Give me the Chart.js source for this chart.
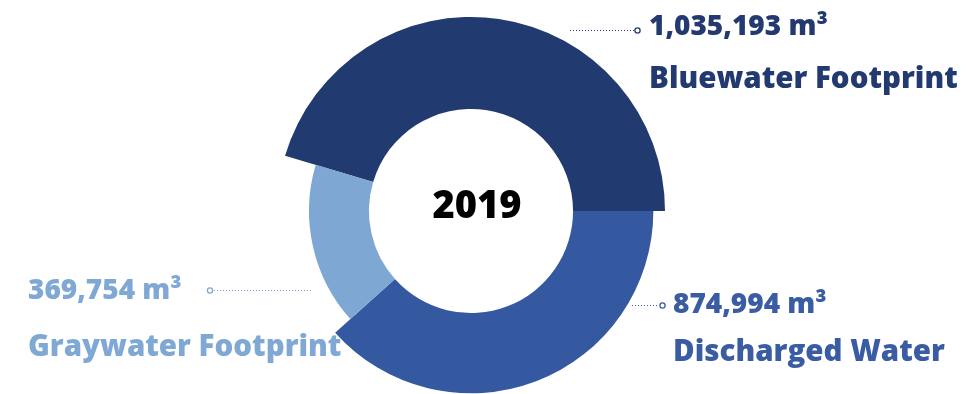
<!DOCTYPE html>
<html>
<head>
<meta charset="utf-8">
<script src="https://cdn.jsdelivr.net/npm/chart.js@4.4.1/dist/chart.umd.min.js"></script>
<style>
  html, body { margin: 0; padding: 0; background: #ffffff; overflow: hidden; }
  #wrap { position: relative; width: 970px; height: 422px; }
</style>
</head>
<body>
<div id="wrap"><canvas id="c"></canvas></div>
<script>
// Water balance, 2019 (m³)
const categories = ['Bluewater Footprint', 'Discharged Water', 'Graywater Footprint'];
const volumes = [1035193, 874994, 369754];
const year = '2019';
const unit = 'm³';

// Styling
const sliceColors = ['#213a70', '#3559a1', '#7ea7d3'];
const textColors = ['#223a70', '#3a5ca3', '#80a8d4'];
const ringScale = [1, 0.94, 0.835];          // relative outer radius of each slice
const labelFont = '"Open Sans", "Lato", sans-serif';

// Callout placement for each category
const callouts = [
  { x: 649, valueY: 35,  nameY: 88,  lineY: 30,  lineFrom: 570, lineTo: 634, dotX: 637.5 },
  { x: 673, valueY: 313, nameY: 361, lineY: 305, lineFrom: 632, lineTo: 659, dotX: 662.5 },
  { x: 28,  valueY: 299, nameY: 356, lineY: 290, lineFrom: 214, lineTo: 313, dotX: 210 }
];

const total = volumes.reduce((a, b) => a + b, 0);
// first slice ends at three o'clock
const startRotation = 90 - 360 * volumes[0] / total;

const ringPlugin = {
  id: 'ringScale',
  afterDatasetsUpdate(chart) {
    chart.getDatasetMeta(0).data.forEach((arc, i) => {
      arc.outerRadius = arc.outerRadius * ringScale[i];
    });
  }
};

const textPlugin = {
  id: 'callouts',
  afterDraw(chart) {
    const ctx = chart.ctx;
    const arc0 = chart.getDatasetMeta(0).data[0];
    ctx.save();
    // year in the hole
    ctx.fillStyle = '#000000';
    ctx.font = '800 38px ' + labelFont;
    ctx.textAlign = 'center';
    ctx.textBaseline = 'middle';
    ctx.fillText(year, arc0.x + 6, arc0.y - 4);

    ctx.textAlign = 'left';
    ctx.textBaseline = 'alphabetic';
    callouts.forEach((c, i) => {
      const col = textColors[i];
      ctx.fillStyle = col;
      ctx.font = '800 28px ' + labelFont;
      ctx.fillText(volumes[i].toLocaleString('en-US') + ' ' + unit, c.x, c.valueY);
      ctx.font = '800 29.5px ' + labelFont;
      ctx.fillText(categories[i], c.x, c.nameY);

      // dotted leader with a small ring at its end
      ctx.strokeStyle = col;
      ctx.lineWidth = 1;
      ctx.setLineDash([1, 2]);
      ctx.beginPath();
      ctx.moveTo(c.lineFrom, c.lineY + 0.5);
      ctx.lineTo(c.lineTo, c.lineY + 0.5);
      ctx.stroke();
      ctx.setLineDash([]);
      ctx.lineWidth = 1.3;
      ctx.beginPath();
      ctx.arc(c.dotX, c.lineY + 0.5, 2.6, 0, Math.PI * 2);
      ctx.stroke();
    });
    ctx.restore();
  }
};

new Chart(document.getElementById('c'), {
  type: 'doughnut',
  data: {
    labels: categories,
    datasets: [{
      data: volumes,
      backgroundColor: sliceColors,
      borderWidth: 0
    }]
  },
  options: {
    responsive: true,
    maintainAspectRatio: false,
    animation: false,
    rotation: startRotation,
    radius: 194,
    cutout: '52.6%',
    layout: { padding: { left: 0, right: 28, top: 0, bottom: 0 } },
    plugins: {
      legend: { display: false },
      tooltip: { enabled: false }
    }
  },
  plugins: [ringPlugin, textPlugin]
});
</script>
</body>
</html>
